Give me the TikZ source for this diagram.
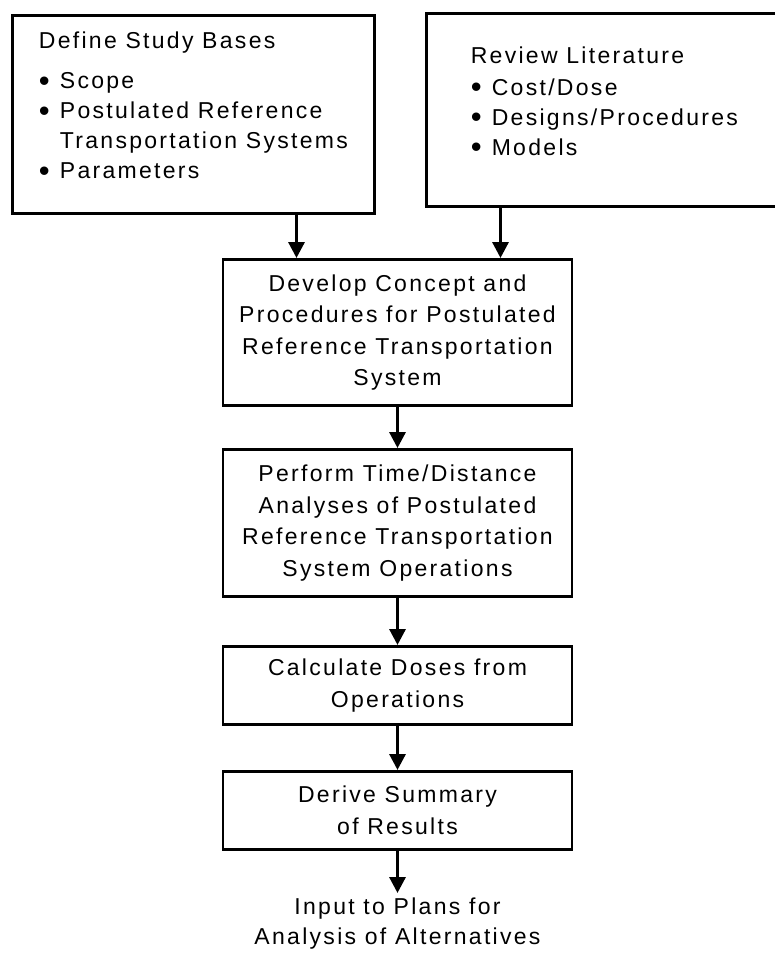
\documentclass[tikz,border=0pt]{standalone}
\usepackage{fontspec}
\setmainfont{Liberation Sans}[LetterSpace=10]
\usetikzlibrary{arrows.meta,positioning}

\newcommand{\bul}{\makebox[21pt][l]{\raisebox{-2.5pt}{\scalebox{1.35}{\textbullet}}}}
\newcommand{\bulgap}{\hspace*{21pt}}

\tikzset{
  stepbox/.style={draw, line width=2.8pt, align=center, inner sep=0pt,
    minimum width=349pt, font=\fontsize{23}{31.5}\selectfont},
  inputbox/.style={stepbox, align=left, anchor=north west, text depth=18pt,
    font=\fontsize{23}{30}\selectfont},
  flow/.style={line width=3.2pt, -{Triangle[width=16pt,length=16pt]}},
}

\begin{document}
\begin{tikzpicture}[x=1pt, y=-1pt]
    \useasboundingbox (0,0) rectangle (775,955);

    % the two inputs on top (the right one runs off the page)
    \node[inputbox, minimum width=362pt, minimum height=198pt] (bases) at (11,14)
        {Define Study Bases\\[10pt]
         \bul Scope\\
         \bul Postulated Reference\\
         \bulgap Transportation Systems\\
         \bul Parameters};
    \node[inputbox, minimum width=356pt, minimum height=193pt] (review) at (425,12)
        {Review Literature\\[2pt]
         \bul Cost/Dose\\
         \bul Designs/Procedures\\
         \bul Models};

    % main chain
    \node[stepbox, anchor=north, minimum height=146pt] (concept) at (397.5,258)
        {Develop Concept and\\Procedures for Postulated\\Reference Transportation\\System};
    \node[stepbox, anchor=north, minimum height=147pt] (timedist) at (397.5,448)
        {Perform Time/Distance\\Analyses of Postulated\\Reference Transportation\\System Operations};
    \node[stepbox, anchor=north, minimum height=78pt] (doses) at (397.5,645)
        {Calculate Doses from\\Operations};
    \node[stepbox, anchor=north, minimum height=78pt] (summary) at (397.5,770)
        {Derive Summary\\of Results};
    \node[stepbox, draw=none, anchor=north, inner sep=3pt, font=\fontsize{23}{30}\selectfont] (plans) at (397.5,893)
        {Input to Plans for\\Analysis of Alternatives};

    % arrows
    \draw[flow] ([xshift=-101pt]concept.north |- bases.south) -- ([xshift=-101pt]concept.north);
    \draw[flow] ([xshift=103pt]concept.north |- review.south) -- ([xshift=103pt]concept.north);
    \draw[flow] (concept) -- (timedist);
    \draw[flow] (timedist) -- (doses);
    \draw[flow] (doses) -- (summary);
    \draw[flow] (summary) -- (plans);
\end{tikzpicture}
\end{document}
